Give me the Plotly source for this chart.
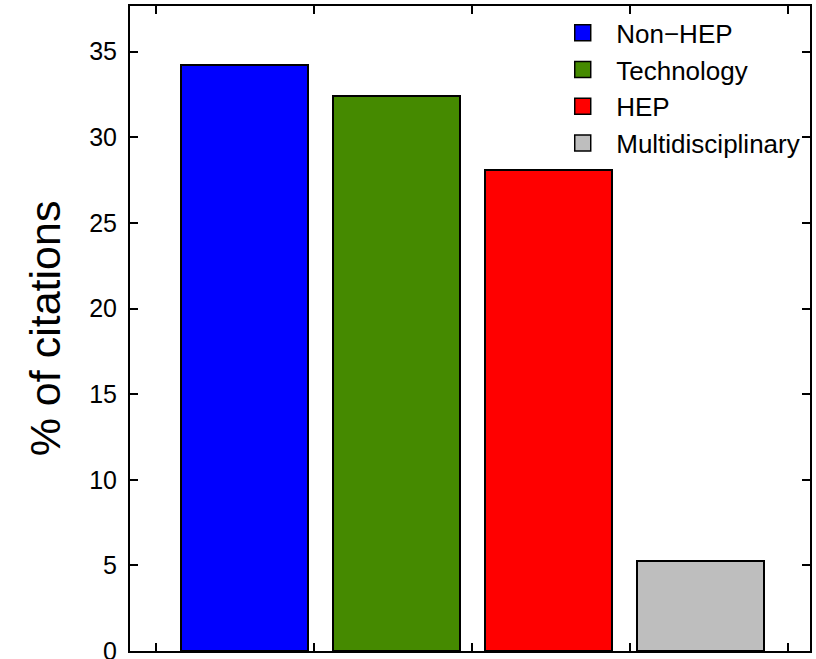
import plotly.graph_objects as go

categories = ["Non\u2212HEP", "Technology", "HEP", "Multidisciplinary"]
values = [34.23, 32.42, 28.1, 5.28]
colors = ["#0000ff", "#458a00", "#ff0000", "#bebebe"]
y_ticks = [0, 5, 10, 15, 20, 25, 30, 35]

positions = list(range(len(categories)))

fig = go.Figure()
fig.add_trace(
    go.Bar(
        x=positions,
        y=values,
        width=0.835,
        marker_color=colors,
        marker_line_color="black",
        marker_line_width=2,
        showlegend=False,
        hovertext=categories,
    )
)
# legend entries (square swatches)
for name, c in zip(categories, colors):
    fig.add_trace(
        go.Scatter(
            x=[None],
            y=[None],
            mode="markers",
            name=name,
            marker_symbol="square",
            marker_size=16,
            marker_color=c,
            marker_line_color="black",
            marker_line_width=1.5,
        )
    )

axis_style = dict(
    showline=True,
    linecolor="black",
    linewidth=2,
    mirror="ticks",
    ticks="inside",
    ticklen=8,
    tickwidth=2,
    tickcolor="black",
    showgrid=False,
    zeroline=False,
    automargin=False,
)

fig.update_xaxes(
    range=[-0.753, 3.719],
    tickmode="linear",
    tick0=-0.584,
    dtick=1.04,
    showticklabels=False,
    **axis_style,
)
fig.update_yaxes(
    range=[0, 37.67],
    tickvals=y_ticks,
    ticktext=[str(v) for v in y_ticks],
    tickfont=dict(size=25, color="black"),
    ticklabelstandoff=6,
    ticklabeloverflow="allow",
    title=dict(text="% of citations", font=dict(size=43, color="black"), standoff=15),
    **axis_style,
)

fig.update_layout(
    width=816,
    height=659,
    margin=dict(l=130, r=6, t=6, b=8, autoexpand=False),
    plot_bgcolor="white",
    paper_bgcolor="white",
    font=dict(family="Liberation Sans, Arial, sans-serif", color="black"),
    bargap=0,
    legend=dict(
        x=0.6165,
        y=0.995,
        xanchor="left",
        yanchor="top",
        font=dict(size=26),
        bgcolor="rgba(0,0,0,0)",
        tracegroupgap=0,
        itemwidth=57,
    ),
)

fig.write_html(
    "out.html",
    config={"displayModeBar": False},
    post_script="document.body.style.margin='0';",
)
